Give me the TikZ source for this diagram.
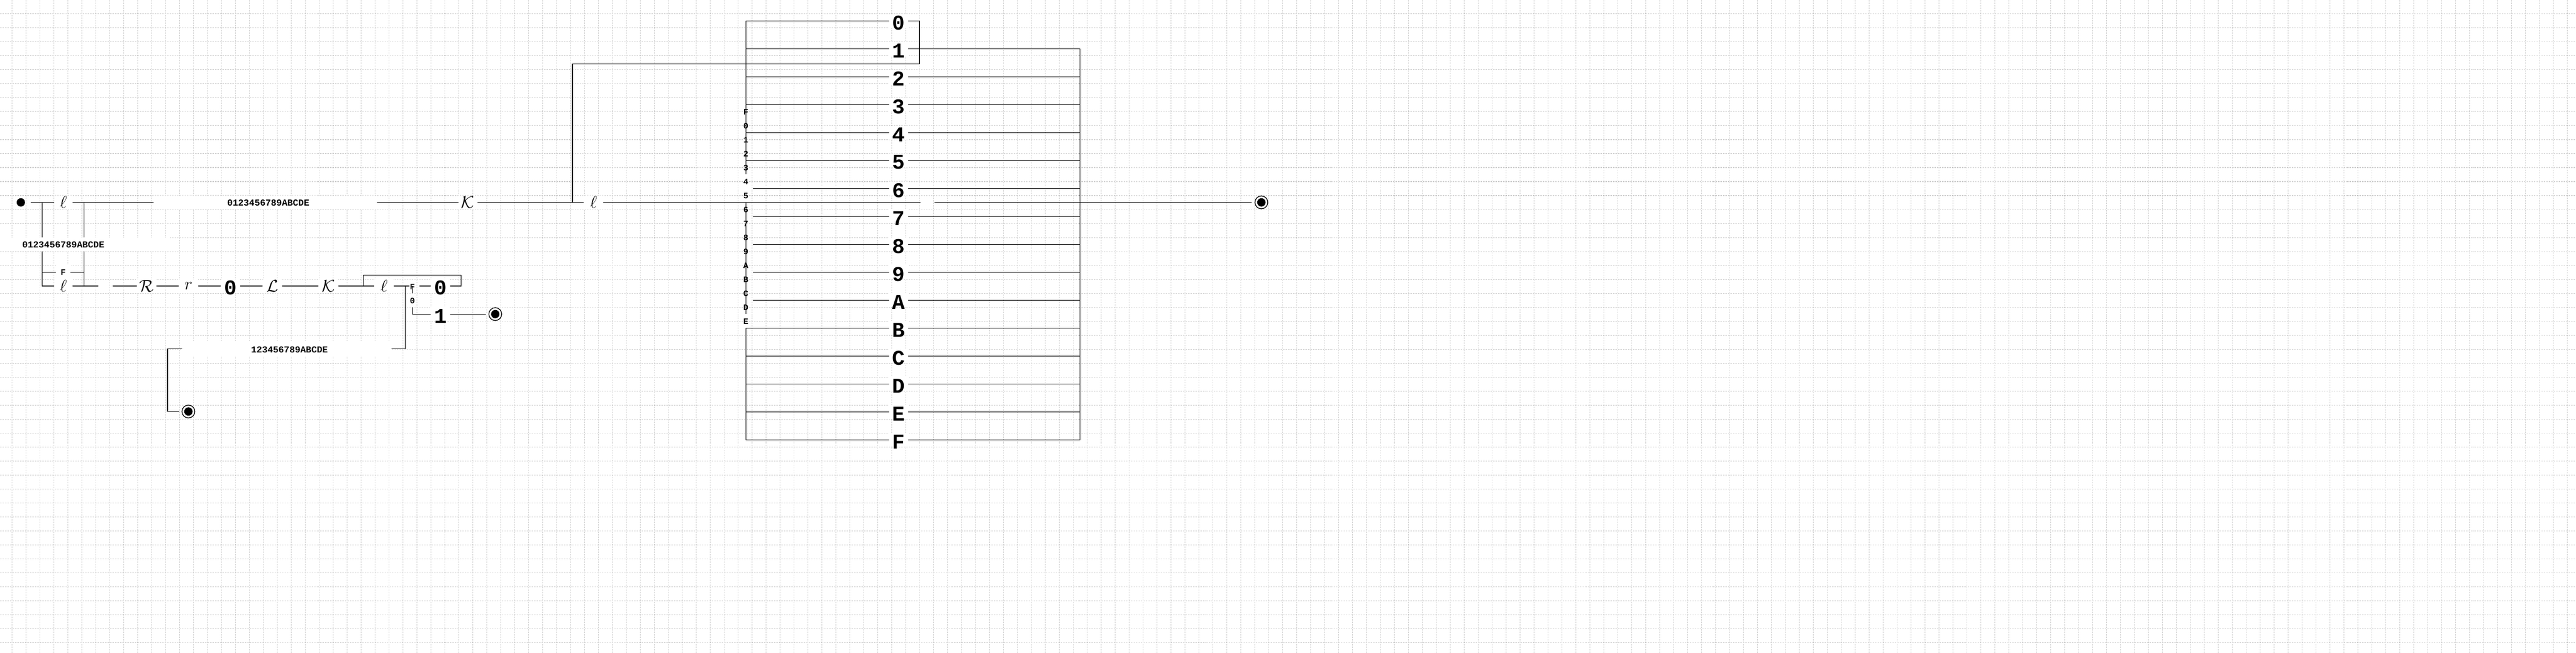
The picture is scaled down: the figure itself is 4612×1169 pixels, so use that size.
\documentclass[tikz,border=0pt]{standalone}
\usepackage{fontspec}
\newfontfamily\lmono{Liberation Mono}
\begin{document}
\begin{tikzpicture}[x=0.02cm,y=-0.02cm]
\tikzset{
  wire/.style={line width=0.6pt, black},
  gapbox/.style={fill=white, inner sep=0pt, outer sep=0pt, minimum height=0.5cm},
  mth/.style={font=\fontsize{15.9}{18}\selectfont},
  bigtx/.style={font=\lmono\bfseries\fontsize{21.5}{24}\selectfont, inner sep=0pt},
  lbltx/.style={font=\lmono\bfseries\fontsize{9.3}{11}\selectfont, inner sep=0pt},
  smalltx/.style={font=\lmono\bfseries\fontsize{8.5}{10}\selectfont, inner sep=0pt},
  startdot/.style={circle, fill=black, minimum size=0.3cm, inner sep=0pt},
  enddot/.style={circle, draw=black, line width=0.75pt, fill=white, minimum size=0.46cm, inner sep=0pt,
    path picture={\fill[black] (path picture bounding box.center) circle[radius=0.15cm];}},
  gridline/.style={gray!50, line width=0.57pt, dash pattern=on 0.57pt off 1.13pt}
}
\useasboundingbox (0,0) rectangle (4612,1169);
\fill[white] (0,0) rectangle (4612,1169);
% background grid
\foreach \i in {0,...,46} \draw[gridline] (0,25*\i) -- (4612,25*\i);
\foreach \i in {0,...,183} \draw[gridline] ({21.7+25*\i},0) -- ({21.7+25*\i},1169);

% ---------- nodes ----------
% upper row
\node[startdot] (s) at (37.3,362.3) {};
\node[gapbox, mth, minimum width=0.666cm] (l1) at (113.35,362.3) {$\ell$};
\node[gapbox, minimum width=8cm, label={[lbltx, xshift=0.106cm, yshift=-0.02cm]center:0123456789ABCDE}] (t1) at (475,362.3) {};
\node[gapbox, mth, minimum width=0.67cm] (k1) at (837.75,362.3) {$\mathcal{K}$};
\node[gapbox, mth, minimum width=0.7cm] (l2) at (1062.5,362.3) {$\ell$};
\node[enddot] (e1) at (2258.3,362.3) {};
% left branch
\node[gapbox, minimum width=7.86cm, label={[lbltx, xshift=0.136cm, yshift=-0.016cm]center:0123456789ABCDE}] (t2) at (106.5,437.5) {};
\node[gapbox, minimum width=0.52cm, label={[smalltx]center:F}] (f1) at (113,487.3) {};
\node[gapbox, mth, minimum width=0.666cm] (l3) at (113.35,512) {$\ell$};
% lower row
\node[gapbox, mth, minimum width=0.7cm] (rr) at (262.5,512) {$\mathcal{R}$};
\node[gapbox, mth, minimum width=0.7cm] (r1) at (337.5,512) {$r$};
\node[gapbox, minimum width=0.7cm, label={[bigtx, yshift=-0.066cm]center:0}] (o1) at (412.5,512) {};
\node[gapbox, mth, minimum width=0.7cm] (ll) at (487.5,512) {$\mathcal{L}$};
\node[gapbox, mth, minimum width=0.714cm] (k2) at (587.85,512) {$\mathcal{K}$};
\node[gapbox, mth, minimum width=0.7cm] (l4) at (687.5,512) {$\ell$};
\node[smalltx] (f2) at (738.3,513.5) {F};
\node[smalltx] (z2) at (738.3,538.3) {0};
\node[gapbox, minimum width=0.694cm, label={[bigtx, yshift=-0.066cm]center:0}] (o2) at (788.35,512) {};
\node[gapbox, minimum width=0.694cm, label={[bigtx, yshift=-0.066cm]center:1}] (o3) at (788.35,562.3) {};
\node[enddot] (e2) at (886.7,562.3) {};
\node[gapbox, minimum width=7.494cm, label={[lbltx, xshift=0.099cm, yshift=-0.028cm]center:123456789ABCDE}] (t3) at (513.35,624.3) {};
\node[enddot] (e3) at (337.3,736.7) {};
% bus
\foreach \t [count=\k from 0] in {0,1,2,3,4,5,6,7,8,9,A,B,C,D,E,F}
  \node[gapbox, minimum width=0.68cm, label={[bigtx, yshift=-0.066cm]center:\t}] (b\k) at (1609,{37.3+50*\k}) {};

% ---------- connectors ----------
% upper row
\coordinate (j0) at (75.7,362.3);
\coordinate (j1) at (150.7,362.3);
\coordinate (j2) at (75.7,512);
\coordinate (j3) at (150.7,512);
\draw[wire] ([xshift=0.2cm]s.east) -- (l1.west);
\draw[wire] (l1.east) -- (t1.west);
\draw[wire] (t1.east) -- (k1.west);
\draw[wire] (k1.east) -- (l2.west);
\coordinate (u0) at (1025,362.3);
\coordinate (u1) at (1025,114.3);
\coordinate (u2) at (1646,114.3);
\coordinate (u3) at (1646,37.3);
\draw[wire] (u0) -- (u1) -- (u2) -- (u3) -- (b0.east);
\coordinate (m1) at (1647.7,362.3);
\coordinate (m2) at (1673.3,362.3);
\draw[wire] (l2.east) -- (m1);
\draw[wire] (m2) -- ([xshift=-0.1cm]e1.west);
% left branch
\draw[wire] (j0) -- (j0 |- t2.north);
\draw[wire] (j0 |- t2.south) -- (j2) -- (l3.west);
\draw[wire] (j1) -- (j1 |- t2.north);
\draw[wire] (j1 |- t2.south) -- (j3);
\draw[wire] (j0 |- f1.west) -- (f1.west);
\draw[wire] (f1.east) -- (j1 |- f1.east);
\draw[wire] (l3.east) -- (175.7,512);
% lower row
\draw[wire] (201.7,512) -- (rr.west);
\draw[wire] (rr.east) -- (r1.west);
\draw[wire] (r1.east) -- (o1.west);
\draw[wire] (o1.east) -- (ll.west);
\draw[wire] (ll.east) -- (k2.west);
\draw[wire] (k2.east) -- (l4.west);
\coordinate (v0) at (650.7,512);
\coordinate (v1) at (650.7,492.3);
\coordinate (v2) at (825.7,492.3);
\coordinate (v3) at (825.7,512);
\draw[wire] (v0) -- (v1) -- (v2) -- (v3) -- (o2.east);
\draw[wire] (l4.east) -- (733,512);
\draw[wire] (750.7,512) -- (o2.west);
\coordinate (w0) at (725.7,512);
\coordinate (w1) at (725.7,624.3);
\draw[wire] (w0) -- (w1) -- (t3.east);
\draw[wire] (738.3,512) -- (738.3,525);
\coordinate (x0) at (738.3,550);
\coordinate (x1) at (738.3,562.3);
\draw[wire] (x0) -- (x1) -- (o3.west);
\draw[wire] (o3.east) -- ([xshift=-0.1cm]e2.west);
\coordinate (y0) at (300,624.3);
\coordinate (y1) at (300,736.7);
\draw[wire] (t3.west) -- (y0) -- (y1) -- ([xshift=-0.074cm]e3.west);
% bus
\foreach \k in {0,1,2,3,4,5,11,12,13,14,15}
  \draw[wire] (1335.3,{37.3+50*\k}) -- (b\k.west);
\foreach \k in {6,7,8,9,10}
  \draw[wire] (1348.3,{37.3+50*\k}) -- (b\k.west);
\foreach \k in {1,...,15}
  \draw[wire] (b\k.east) -- (1933.5,{37.3+50*\k});
\draw[wire] (b1.east -| 1933.5,0) -- (b15.east -| 1933.5,0);
\draw[wire] (b0.west -| 1335.3,0) -- (1335.3,311.7);
\draw[wire] (1335.3,362.3) -- (1335.3,561.7);
\draw[wire] (b11.west -| 1335.3,0) -- (b15.west -| 1335.3,0);
\foreach \t [count=\j from 0] in {F,0,1,2,3,4,5,6,7,8,9,A,B,C,D,E}
  \node[smalltx] (sm\j) at (1335.3,{200.5+25*\j}) {\t};
\end{tikzpicture}
\end{document}
